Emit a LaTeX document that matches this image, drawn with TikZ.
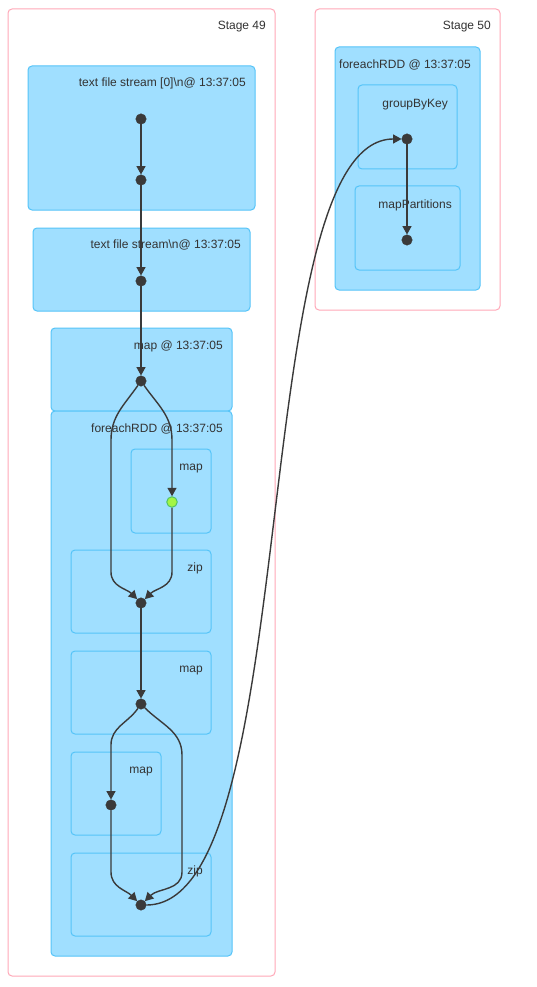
\documentclass[tikz,border=0pt]{standalone}
\usepackage{fontspec}
\setmainfont{Liberation Sans}
\usetikzlibrary{arrows.meta}
\definecolor{stagepink}{HTML}{FFA8B8}
\definecolor{clfill}{HTML}{A0DFFF}
\definecolor{clstroke}{HTML}{55C4F8}
\definecolor{dotgray}{HTML}{3A3A3A}
\definecolor{cachefill}{HTML}{A3F545}
\definecolor{cachestroke}{HTML}{52C366}
\definecolor{txt}{HTML}{333333}
\tikzset{
  stagebox/.style={draw=stagepink, fill=white, line width=1pt, rounded corners=4pt},
  clusterbox/.style={draw=clstroke, fill=clfill, line width=1pt, rounded corners=4pt},
  lbl/.style={anchor=base east, inner sep=0pt, text=txt, font=\fontsize{12}{14}\selectfont},
  dot/.style={circle, fill=dotgray, draw=dotgray, minimum size=10.5pt, inner sep=0pt},
  cached/.style={circle, fill=cachefill, draw=cachestroke, line width=1pt, minimum size=10.5pt, inner sep=0pt},
  edge/.style={draw=dotgray, line width=1.4pt, -{Triangle[length=8.5pt,width=9pt]}},
}
\begin{document}
\begin{tikzpicture}[x=1pt,y=-1pt]
\useasboundingbox (0,0) rectangle (537,987);
% stages
\draw[stagebox] (8,9) rectangle (275,976);
\node[lbl] (s49) at (266,29.5) {Stage 49};
\draw[stagebox] (315,9) rectangle (500,310);
\node[lbl] (s50) at (491,29.5) {Stage 50};
% stage 49 clusters
\draw[clusterbox] (28,66) rectangle (255,210);
\node[lbl] (c1) at (246,86.5) {text file stream [0]\textbackslash n@ 13:37:05};
\draw[clusterbox] (33,228) rectangle (250,311);
\node[lbl] (c2) at (241,248.5) {text file stream\textbackslash n@ 13:37:05};
\draw[clusterbox] (51,328) rectangle (232,411);
\node[lbl] (c3) at (223,349.5) {map @ 13:37:05};
\draw[clusterbox] (51,411) rectangle (232,956);
\node[lbl] (c4) at (223,432.5) {foreachRDD @ 13:37:05};
\draw[clusterbox] (131,449) rectangle (211,533);
\node[lbl] (c4a) at (203,470.5) {map};
\draw[clusterbox] (71,550) rectangle (211,633);
\node[lbl] (c4b) at (203,571.5) {zip};
\draw[clusterbox] (71,651) rectangle (211,734);
\node[lbl] (c4c) at (203,672.5) {map};
\draw[clusterbox] (71,752) rectangle (161,835);
\node[lbl] (c4d) at (153,773.5) {map};
\draw[clusterbox] (71,853) rectangle (211,936);
\node[lbl] (c4e) at (203,874.5) {zip};
% stage 50 clusters
\draw[clusterbox] (335,47) rectangle (480,290);
\node[lbl] (c5) at (471,68.5) {foreachRDD @ 13:37:05};
\draw[clusterbox] (358,85) rectangle (457,169);
\node[lbl] (c5a) at (448,107.5) {groupByKey};
\draw[clusterbox] (355,186) rectangle (460,270);
\node[lbl] (c5b) at (452,208.5) {mapPartitions};
% dots
\node[dot] (n1) at (141,119) {};
\node[dot] (n2) at (141,180) {};
\node[dot] (n3) at (141,281) {};
\node[dot] (n4) at (141,381) {};
\node[cached] (n5) at (172,502) {};
\node[dot] (n6) at (141,603) {};
\node[dot] (n7) at (141,704) {};
\node[dot] (n8) at (111,805) {};
\node[dot] (n9) at (141,905) {};
\node[dot] (g1) at (407,139) {};
\node[dot] (g2) at (407,240) {};
% edges
\draw[edge] (n1) -- (n2);
\draw[edge] (n2) -- (n3);
\draw[edge] (n3) -- (n4);
\draw[edge] (n4) to[out=-125,in=90] (111,440) -- (111,572) to[out=-90,in=135] (n6);
\draw[edge] (n4) to[out=-55,in=90] (172,440) -- (n5);
\draw[edge] (n5) -- (172,572) to[out=-90,in=45] (n6);
\draw[edge] (n6) -- (n7);
\draw[edge] (n7) to[out=-125,in=90] (111,745) -- (n8);
\draw[edge] (n7) to[out=-45,in=90] (182,755) -- (182,872) to[out=-90,in=45] (n9);
\draw[edge] (n8) -- (111,872) to[out=-90,in=135] (n9);
\draw[edge] (n9) .. controls (305,905) and (245,139) .. (g1);
\draw[edge] (g1) -- (g2);
\end{tikzpicture}
\end{document}
